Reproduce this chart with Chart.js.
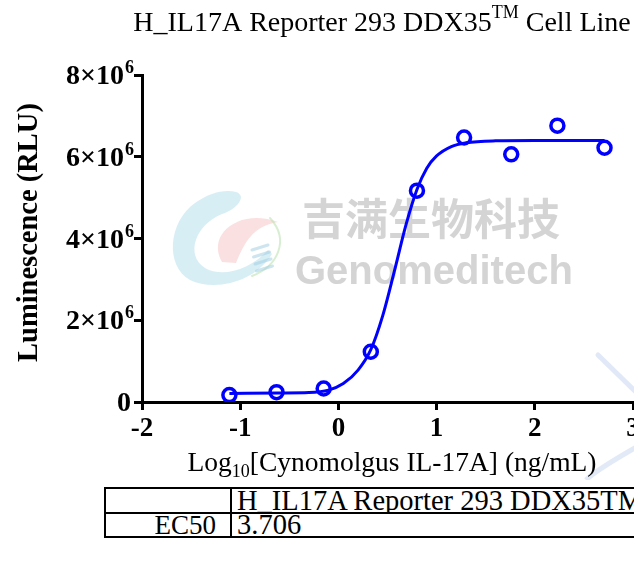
<!DOCTYPE html>
<html>
<head>
<meta charset="utf-8">
<script src="https://cdn.jsdelivr.net/npm/chart.js@4"></script>
<style>
  html, body { margin: 0; padding: 0; background: #fff; overflow: hidden; width: 634px; height: 561px; }
  #wrap { position: absolute; left: 0; top: 0; width: 660px; height: 480px; }
  #ec50 { position: absolute; left: 104px; top: 487px; border-collapse: collapse; table-layout: fixed; width: 640px;
          font-family: 'Liberation Serif', 'Times New Roman', serif; font-size: 27px; color: #000; }
  #ec50 td { border: 2px solid #000; padding: 0 5px; white-space: nowrap; line-height: 22px; overflow: hidden; }
  #ec50 td.lab { text-align: right; padding-right: 14px; }
  #ec50 td.val { text-align: left; font-size: 28.5px; }
</style>
</head>
<body>
<div id="wrap"><canvas id="doseChart" width="660" height="480"></canvas></div>
<table id="ec50">
  <colgroup><col style="width:126px"><col style="width:514px"></colgroup>
  <tr style="height:25px"><td class="lab"></td><td class="val">H_IL17A Reporter 293 DDX35TM</td></tr>
  <tr style="height:23px"><td class="lab">EC50</td><td class="val">3.706</td></tr>
</table>
<script>
// measured points, log10 dose (ng/mL) vs RLU
const doseLog = [-1.11, -0.63, -0.15, 0.33, 0.80, 1.28, 1.76, 2.23, 2.71];
const rlu = [0.17e6, 0.24e6, 0.33e6, 1.23e6, 5.17e6, 6.47e6, 6.06e6, 6.76e6, 6.22e6];

// fitted curve
const fitLog = [-1.11, -0.6, -0.3, -0.1, 0.05, 0.2, 0.33, 0.45, 0.57, 0.69, 0.8, 0.9, 1.0, 1.15, 1.3, 1.6, 2.0, 2.71];
const fitRlu = [0.21e6, 0.22e6, 0.23e6, 0.29e6, 0.45e6, 0.78e6, 1.28e6, 2.1e6, 3.2e6, 4.35e6, 5.2e6, 5.72e6, 6.02e6, 6.25e6, 6.34e6, 6.39e6, 6.4e6, 6.4e6];

const xTicks = [-2, -1, 0, 1, 2, 3];
const yTickMant = [0, 2, 4, 6, 8];
const yTickExp = 6;

const chartTitle = 'H_IL17A Reporter 293 DDX35';
const chartTitleSup = 'TM';
const chartTitleTail = ' Cell Line';
const yTitle = 'Luminescence (RLU)';
const xTitle = ['Log', '10', '[Cynomolgus IL-17A] (ng/mL)'];
const wmCn = '吉满生物科技';
const wmEn = 'Genomeditech';

const serif = "'Liberation Serif', 'Times New Roman', serif";
const BLUE = '#0000ff';

const watermark = {
    id: 'watermark',
    beforeDatasetsDraw(chart) {
        const c = chart.ctx;
        c.save();
        // logo swirl, pale
        c.lineCap = 'round';
        c.fillStyle = 'rgba(175,222,236,0.5)';
        c.beginPath();
        c.moveTo(236, 192);
        c.bezierCurveTo(248, 196, 236, 210, 222, 214);
        c.bezierCurveTo(195, 225, 185, 255, 205, 268);
        c.bezierCurveTo(222, 278, 250, 270, 268, 250);
        c.lineTo(272, 254);
        c.bezierCurveTo(255, 282, 215, 292, 190, 280);
        c.bezierCurveTo(165, 266, 168, 222, 195, 203);
        c.bezierCurveTo(210, 192, 226, 189, 236, 192);
        c.closePath();
        c.fill();
        c.fillStyle = 'rgba(244,180,180,0.42)';
        c.beginPath();
        c.moveTo(222, 262);
        c.bezierCurveTo(206, 234, 240, 208, 278, 222);
        c.bezierCurveTo(252, 226, 244, 244, 236, 263);
        c.closePath();
        c.fill();
        c.strokeStyle = 'rgba(190,226,180,0.6)';
        c.lineWidth = 2;
        c.beginPath();
        c.moveTo(270, 218);
        c.bezierCurveTo(290, 240, 278, 266, 252, 276);
        c.stroke();
        c.strokeStyle = 'rgba(165,208,228,0.55)';
        c.lineWidth = 3;
        for (let i = 0; i < 4; i++) {
            c.beginPath();
            c.moveTo(252 + i * 1.5, 250 + i * 7);
            c.lineTo(268 + i * 1.5, 245 + i * 7);
            c.stroke();
        }
        // text
        c.fillStyle = 'rgba(204,204,204,0.85)';
        c.textBaseline = 'alphabetic';
        c.textAlign = 'left';
        c.font = "bold 43px 'Noto Sans CJK SC'";
        c.fillText(wmCn, 302, 235);
        c.font = "bold 40px 'Liberation Sans', Arial, sans-serif";
        c.fillText(wmEn, 295, 284);
        // faint strokes bottom right
        c.strokeStyle = 'rgba(200,213,240,0.55)';
        c.lineWidth = 5;
        c.beginPath();
        c.moveTo(598, 355);
        c.lineTo(640, 396);
        c.stroke();
        c.restore();
    },
    afterDraw(chart) {
        const c = chart.ctx;
        c.save();
        c.strokeStyle = 'rgba(200,213,240,0.5)';
        c.lineWidth = 5;
        c.beginPath();
        c.moveTo(640, 445);
        c.quadraticCurveTo(596, 470, 586, 480);
        c.stroke();
        c.restore();
    }
};

const labels = {
    id: 'labels',
    afterDraw(chart) {
        const c = chart.ctx;
        const ys = chart.scales.y;
        const area = chart.chartArea;
        c.save();
        c.fillStyle = '#000';
        c.textBaseline = 'alphabetic';

        // title with superscript
        c.font = '28px ' + serif;
        const w1 = c.measureText(chartTitle).width;
        c.font = '18px ' + serif;
        const w2 = c.measureText(chartTitleSup).width;
        c.font = '28px ' + serif;
        const w3 = c.measureText(chartTitleTail).width;
        const tx = 382 - (w1 + w2 + w3) / 2;
        c.textAlign = 'left';
        c.fillText(chartTitle, tx, 31);
        c.font = '18px ' + serif;
        c.fillText(chartTitleSup, tx + w1, 18);
        c.font = '28px ' + serif;
        c.fillText(chartTitleTail, tx + w1 + w2, 31);

        // y tick labels, mantissa x 10^6
        yTickMant.forEach(function (m) {
            const py = ys.getPixelForValue(m * Math.pow(10, yTickExp));
            if (m === 0) {
                c.font = 'bold 28px ' + serif;
                c.textAlign = 'right';
                c.fillText('0', 131, py + 9);
                return;
            }
            c.font = 'bold 18px ' + serif;
            const sw = c.measureText(String(yTickExp)).width;
            c.textAlign = 'right';
            c.fillText(String(yTickExp), 134, py - 2);
            c.font = 'bold 28px ' + serif;
            c.fillText(m + '×10', 134 - sw - 1, py + 9);
        });

        // y title
        c.save();
        c.translate(37, (area.top + area.bottom) / 2 - 6);
        c.rotate(-Math.PI / 2);
        c.textAlign = 'center';
        c.font = 'bold 28.5px ' + serif;
        c.fillText(yTitle, 0, 0);
        c.restore();

        // x title with subscript
        c.font = '27.5px ' + serif;
        const a = c.measureText(xTitle[0]).width;
        const cc = c.measureText(xTitle[2]).width;
        c.font = '18px ' + serif;
        const b = c.measureText(xTitle[1]).width;
        const sx = 392 - (a + b + cc) / 2;
        c.textAlign = 'left';
        c.font = '27.5px ' + serif;
        c.fillText(xTitle[0], sx, 471);
        c.font = '18px ' + serif;
        c.fillText(xTitle[1], sx + a, 477);
        c.font = '27.5px ' + serif;
        c.fillText(xTitle[2], sx + a + b, 471);
        c.restore();
    }
};

new Chart(document.getElementById('doseChart'), {
    type: 'scatter',
    data: {
        datasets: [{
            label: 'fit',
            data: fitLog.map(function (x, i) { return { x: x, y: fitRlu[i] }; }),
            showLine: true,
            borderColor: BLUE,
            borderWidth: 3,
            pointRadius: 0,
            cubicInterpolationMode: 'monotone',
        }, {
            label: 'data',
            data: doseLog.map(function (x, i) { return { x: x, y: rlu[i] }; }),
            showLine: false,
            pointStyle: 'circle',
            pointRadius: 6.5,
            pointBorderWidth: 3.5,
            borderColor: BLUE,
            backgroundColor: 'rgba(0,0,0,0)',
        }]
    },
    options: {
        responsive: false,
        animation: false,
        events: [],
        layout: { padding: { left: 0, top: 75, right: 27, bottom: 0 } },
        scales: {
            x: {
                type: 'linear',
                min: -2,
                max: 3,
                afterFit: function (s) { s.height = 78; },
                afterBuildTicks: function (s) { s.ticks = xTicks.map(function (v) { return { value: v }; }); },
                border: { color: '#000', width: 3 },
                grid: { drawOnChartArea: false, drawTicks: true, tickLength: 8, tickWidth: 3, tickColor: '#000' },
                ticks: {
                    color: '#000',
                    padding: 3,
                    maxRotation: 0,
                    autoSkip: false,
                    font: { family: serif, size: 27, weight: 'bold' },
                }
            },
            y: {
                type: 'linear',
                min: 0,
                max: 8e6,
                afterFit: function (s) { s.width = 142; },
                afterBuildTicks: function (s) { s.ticks = yTickMant.map(function (m) { return { value: m * Math.pow(10, yTickExp) }; }); },
                border: { color: '#000', width: 3 },
                grid: { drawOnChartArea: false, drawTicks: true, tickLength: 8, tickWidth: 3, tickColor: '#000' },
                ticks: {
                    callback: function () { return ''; },
                }
            }
        },
        plugins: {
            legend: { display: false },
            tooltip: { enabled: false },
        }
    },
    plugins: [watermark, labels]
});
</script>
</body>
</html>
